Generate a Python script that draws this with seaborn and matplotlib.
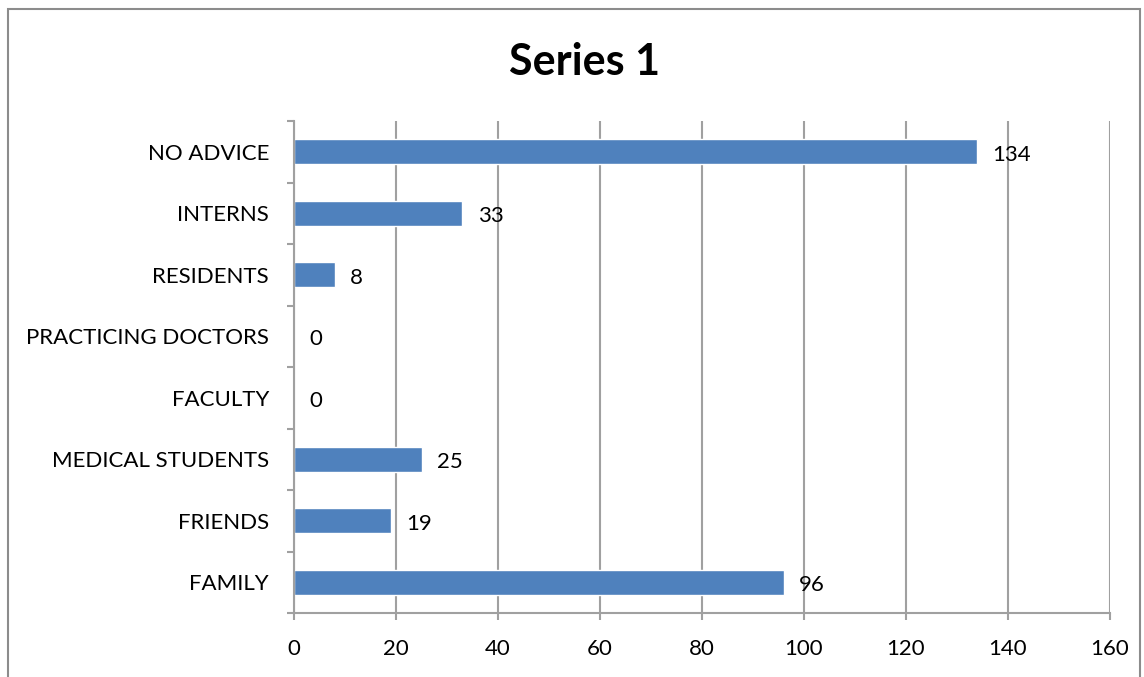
import matplotlib
matplotlib.use('Agg')
import matplotlib.pyplot as plt
import pandas as pd
import seaborn as sns
from matplotlib.patches import Rectangle
from matplotlib.ticker import FixedLocator, MultipleLocator

categories = ['NO ADVICE', 'INTERNS', 'RESIDENTS', 'PRACTICING DOCTORS',
              'FACULTY', 'MEDICAL STUDENTS', 'FRIENDS', 'FAMILY']
values = [134, 33, 8, 0, 0, 25, 19, 96]
title = 'Series 1'

df = pd.DataFrame({'source': categories, 'count': values})

sns.set_style('white')
plt.rcParams['font.family'] = ['Lato', 'DejaVu Sans']
plt.rcParams['text.color'] = 'black'
plt.rcParams['xtick.labelcolor'] = 'black'
plt.rcParams['ytick.labelcolor'] = 'black'

fig = plt.figure(figsize=(11.44, 6.77), dpi=100)
ax = fig.add_axes([294 / 1144, 1 - 613 / 677, (1110 - 294) / 1144, (613 - 121) / 677])

sns.barplot(data=df, x='count', y='source', order=categories, orient='h',
            color='#4F81BD', saturation=1, width=0.4, ax=ax)

for c in ax.containers:
    labels = ax.bar_label(c, padding=11, fontsize=16, color='black')
    for t in labels:
        t.xyann = (t.xyann[0], t.xyann[1] - 2)

ax.set_xlim(0, 160)
ax.set_ylim(len(categories) - 0.5, -0.5)
ax.xaxis.set_major_locator(MultipleLocator(20))
ax.grid(axis='x', color='#A0A0A0', linewidth=1.5)
ax.set_axisbelow(True)
ax.set_xlabel('')
ax.set_ylabel('')

for s in ['top', 'right']:
    ax.spines[s].set_visible(False)
for s in ['left', 'bottom']:
    ax.spines[s].set_color('#A0A0A0')
    ax.spines[s].set_linewidth(1.5)

ax.yaxis.set_minor_locator(FixedLocator([i - 0.5 for i in range(len(categories) + 1)]))
ax.tick_params(axis='y', which='major', length=0, pad=18, labelsize=16)
ax.tick_params(axis='y', which='minor', length=5, width=1.5, color='#A0A0A0', left=True)
ax.tick_params(axis='x', which='major', length=5, width=1.5, color='#A0A0A0',
               bottom=True, pad=14, labelsize=16)

fig.text(585 / 1144, 1 - 62 / 677, title, ha='center', va='center',
         fontsize=31, fontweight='bold')

fig.patches.append(Rectangle((8 / 1144, -0.1), (1140 - 8) / 1144, 1.1 - 9 / 677,
                             transform=fig.transFigure, fill=False,
                             edgecolor='#8C8C8C', linewidth=1.5))

fig.savefig('out.png', dpi=100)
